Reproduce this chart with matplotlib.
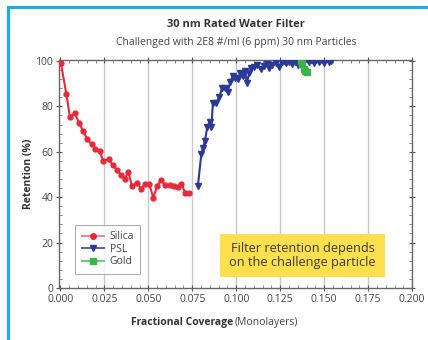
import matplotlib
matplotlib.use('Agg')
import matplotlib.pyplot as plt
from matplotlib.lines import Line2D
from matplotlib.patches import Rectangle
from matplotlib.ticker import MultipleLocator, AutoMinorLocator, FormatStrFormatter

plt.rcParams['font.family'] = ['Open Sans', 'DejaVu Sans']

# Silica
silica_x = [0.0003, 0.0034, 0.0054, 0.0082, 0.0107, 0.0130, 0.0152, 0.0177, 0.0199, 0.0223,
            0.0243, 0.0274, 0.0297, 0.0322, 0.0344, 0.0365, 0.0387, 0.0406, 0.0438, 0.0459,
            0.0481, 0.0506, 0.0528, 0.0551, 0.0572, 0.0596, 0.0622, 0.0645, 0.0668, 0.0688,
            0.0711, 0.0732]
silica_y = [99.0, 85.5, 75.5, 77.0, 72.5, 69.2, 65.5, 63.4, 61.1, 60.2,
            56.1, 56.8, 54.2, 52.0, 49.8, 48.0, 51.2, 45.0, 46.4, 43.6,
            45.7, 45.7, 39.8, 45.0, 47.6, 45.4, 45.5, 44.9, 44.4, 45.8,
            41.7, 42.0]

# PSL
psl_x = [0.0782, 0.0801, 0.0810, 0.0822, 0.0835, 0.0848, 0.0859, 0.0867, 0.0886, 0.0904,
         0.0920, 0.0934, 0.0951, 0.0965, 0.0980, 0.0995, 0.1008, 0.1023, 0.1036, 0.1050,
         0.1060, 0.1074, 0.1083, 0.1102, 0.1120, 0.1140, 0.1158, 0.1172, 0.1187, 0.1205,
         0.1225, 0.1243, 0.1258, 0.1271, 0.1284, 0.1300, 0.1318, 0.1333, 0.1350, 0.1366,
         0.1413, 0.1440, 0.1469, 0.1497, 0.1525, 0.1540]
psl_y = [45.0, 58.9, 61.5, 64.9, 70.8, 73.3, 70.8, 81.4, 81.4, 84.3,
         88.2, 88.2, 86.2, 90.6, 93.4, 92.4, 91.9, 94.8, 93.4, 95.7,
         90.4, 94.8, 96.8, 97.5, 98.2, 96.5, 97.9, 98.7, 96.8, 98.2,
         99.2, 97.5, 99.7, 100.0, 99.0, 99.7, 98.7, 99.7, 98.2, 100.0,
         99.5, 99.0, 99.6, 99.2, 99.7, 100.0]

# Gold
gold_x = [0.1366, 0.1376, 0.1383, 0.1393, 0.1400]
gold_y = [99.8, 98.6, 96.5, 95.6, 95.3]

fig = plt.figure(figsize=(4.28, 3.40), dpi=100)
ax = fig.add_axes([0.139, 0.153, 0.824, 0.671])

red = '#e8293a'
blue = '#2b3a96'
green = '#3bb54a'

for x in [0.025, 0.05, 0.075, 0.1, 0.125, 0.15, 0.175]:
    ax.axvline(x, color='#c8c8c8', lw=1.0, zorder=0)

ax.plot(silica_x, silica_y, color=red, lw=1.5, marker='o', ms=3.5, zorder=3)
ax.plot(psl_x, psl_y, color=blue, lw=1.5, marker='v', ms=4.5, zorder=3)
ax.plot(gold_x, gold_y, color=green, lw=1.5, marker='s', ms=3.8, zorder=4)

ax.set_xlim(-0.0005, 0.2)
ax.set_ylim(0, 100.5)
ax.xaxis.set_major_locator(MultipleLocator(0.025))
ax.yaxis.set_major_locator(MultipleLocator(20))
ax.xaxis.set_minor_locator(AutoMinorLocator(5))
ax.yaxis.set_minor_locator(AutoMinorLocator(5))
ax.xaxis.set_major_formatter(FormatStrFormatter('%.3f'))
ax.tick_params(which='major', direction='inout', length=5, width=0.8, colors='#555555',
               labelcolor='#444444', labelsize=7.5, top=True, right=True, pad=2)
ax.tick_params(which='minor', direction='in', length=2.5, width=0.6, colors='#777777',
               top=True, right=True)
for s in ax.spines.values():
    s.set_color('#666666')
    s.set_linewidth(1.0)

ax.set_ylabel('Retention (%)', fontsize=7.5, fontweight='bold', color='#333333', labelpad=1)
fig.text(0.545, 0.052, 'Fractional Coverage', fontsize=7.5, fontweight='bold',
         color='#333333', ha='right', va='center')
fig.text(0.548, 0.052, '(Monolayers)', fontsize=7.5, color='#444444', ha='left', va='center')

fig.text(0.552, 0.927, '30 nm Rated Water Filter', fontsize=8, fontweight='bold',
         color='#333333', ha='center', va='center')
fig.text(0.552, 0.874, 'Challenged with 2E8 #/ml (6 ppm) 30 nm Particles', fontsize=7.5,
         color='#444444', ha='center', va='center')

handles = [Line2D([], [], color='#f08a90', lw=1.5, marker='o', ms=4, mfc=red, mec=red),
           Line2D([], [], color='#5a66b0', lw=1.5, marker='v', ms=4.5, mfc=blue, mec=blue),
           Line2D([], [], color='#74cc7c', lw=1.5, marker='s', ms=4, mfc=green, mec=green)]
leg = ax.legend(handles, ['Silica', 'PSL', 'Gold'], loc='lower left',
                bbox_to_anchor=(0.03, 0.04), fontsize=7.5, frameon=True, fancybox=False,
                edgecolor='#999999', handlelength=2.2, labelspacing=0.15,
                borderpad=0.6, handletextpad=0.5, labelcolor='#444444')
leg.get_frame().set_linewidth(0.8)

ax.add_patch(Rectangle((0.455, 0.048), 0.468, 0.19, transform=ax.transAxes,
                       facecolor='#fde04b', edgecolor='none', zorder=5))
ax.text(0.689, 0.143, 'Filter retention depends\non the challenge particle',
        transform=ax.transAxes, fontsize=9.2, color='#3a3a3a', ha='center', va='center',
        linespacing=1.15, zorder=6)

# cyan frame on top and left
fig.add_artist(Line2D([0.0187, 1.0], [0.979, 0.979], transform=fig.transFigure,
                      color='#1aaee6', lw=2.2))
fig.add_artist(Line2D([0.0187, 0.0187], [0.979, 0.0], transform=fig.transFigure,
                      color='#1aaee6', lw=2.2))

fig.savefig('out.png', dpi=100)
